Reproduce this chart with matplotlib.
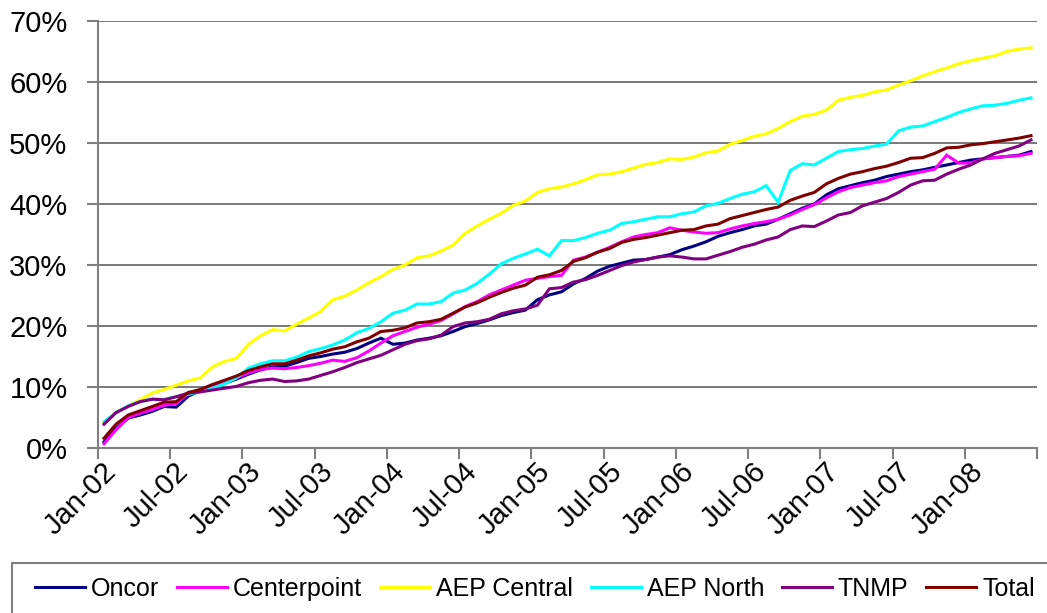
import matplotlib
matplotlib.use("Agg")
import matplotlib.pyplot as plt
from matplotlib.patches import Rectangle
from matplotlib.ticker import FuncFormatter, FixedLocator
from matplotlib.transforms import ScaledTranslation

plt.rcParams['font.family'] = ['Liberation Sans', 'DejaVu Sans']

# Cumulative share by month, Jan-02 .. Jun-08 (percent)
oncor = [1.0, 3.2, 4.9, 5.4, 6.0, 6.8, 6.7, 8.5, 9.4, 9.9, 10.6, 11.3, 12.1, 12.8, 13.3, 13.4, 14.0, 14.7, 15.0, 15.4, 15.7,
         16.3, 17.2, 18.0, 17.0, 17.2, 17.7, 18.0, 18.4, 19.1, 19.9, 20.4, 21.0, 21.7, 22.2, 22.6, 24.3, 25.1, 25.6, 26.9,
         27.8, 29.0, 29.8, 30.3, 30.8, 30.9, 31.3, 31.7, 32.5, 33.1, 33.8, 34.7, 35.3, 35.8, 36.4, 36.7, 37.5, 38.4, 39.3, 40.0,
         41.5, 42.5, 43.0, 43.5, 43.9, 44.5, 44.9, 45.3, 45.6, 46.0, 46.4, 46.8, 47.2, 47.4, 47.6, 47.8, 48.0, 48.6]
centerpoint = [0.7, 3.0, 5.0, 5.7, 6.3, 7.0, 7.3, 8.9, 9.5, 10.1, 10.7, 11.5, 12.3, 12.9, 13.1, 13.0, 13.2, 13.5, 13.9, 14.4, 14.2,
               14.8, 15.9, 17.2, 18.4, 19.1, 19.8, 20.3, 20.9, 22.0, 23.2, 24.0, 25.1, 25.9, 26.7, 27.5, 27.8, 28.1, 28.3, 30.8,
               31.3, 32.1, 32.9, 33.8, 34.6, 35.0, 35.3, 36.1, 35.7, 35.4, 35.2, 35.3, 35.9, 36.4, 36.8, 37.1, 37.5, 38.2, 39.1, 39.9,
               41.0, 42.0, 42.7, 43.1, 43.5, 43.8, 44.5, 44.9, 45.3, 45.7, 48.0, 46.7, 46.7, 47.4, 47.6, 47.8, 47.9, 48.3]
aep_central = [4.2, 5.8, 6.9, 7.9, 9.0, 9.6, 10.3, 11.0, 11.5, 13.3, 14.2, 14.7, 17.0, 18.4, 19.4, 19.2, 20.3, 21.3, 22.4, 24.3, 24.9,
               25.9, 27.1, 28.1, 29.3, 30.0, 31.2, 31.5, 32.3, 33.3, 35.2, 36.4, 37.5, 38.5, 39.8, 40.5, 41.9, 42.5, 42.8, 43.3,
               44.0, 44.8, 44.9, 45.3, 45.9, 46.5, 46.8, 47.4, 47.3, 47.7, 48.4, 48.7, 49.8, 50.4, 51.1, 51.5, 52.4, 53.5, 54.4, 54.7,
               55.4, 57.0, 57.5, 57.8, 58.4, 58.7, 59.5, 60.2, 61.0, 61.7, 62.3, 63.0, 63.5, 63.9, 64.3, 65.0, 65.4, 65.6]
aep_north = [4.3, 5.8, 6.9, 7.6, 8.0, 8.0, 8.4, 8.8, 9.2, 9.8, 10.5, 11.5, 13.1, 13.8, 14.3, 14.3, 14.9, 15.8, 16.3, 16.9, 17.7,
             18.9, 19.6, 20.7, 22.1, 22.6, 23.6, 23.6, 24.0, 25.4, 25.9, 27.0, 28.5, 30.2, 31.1, 31.8, 32.6, 31.5, 34.0, 34.0,
             34.5, 35.2, 35.7, 36.8, 37.1, 37.5, 37.9, 37.9, 38.4, 38.7, 39.7, 40.1, 40.9, 41.6, 42.0, 43.0, 40.3, 45.5, 46.6, 46.4,
             47.5, 48.6, 48.9, 49.1, 49.5, 49.8, 52.0, 52.6, 52.8, 53.5, 54.2, 55.0, 55.6, 56.1, 56.2, 56.5, 57.0, 57.4]
tnmp = [3.9, 5.8, 6.8, 7.6, 8.0, 7.9, 8.4, 9.0, 9.2, 9.5, 9.8, 10.1, 10.7, 11.1, 11.3, 10.9, 11.0, 11.3, 11.9, 12.5, 13.2,
        14.0, 14.6, 15.2, 16.1, 17.0, 17.6, 17.9, 18.5, 19.9, 20.5, 20.7, 21.1, 22.0, 22.5, 22.8, 23.4, 26.1, 26.3, 27.2,
        27.6, 28.3, 29.1, 29.9, 30.5, 30.9, 31.3, 31.5, 31.3, 31.0, 31.0, 31.6, 32.2, 32.9, 33.4, 34.1, 34.6, 35.8, 36.4, 36.3,
        37.2, 38.2, 38.6, 39.7, 40.3, 40.9, 41.9, 43.1, 43.8, 43.9, 44.9, 45.7, 46.4, 47.4, 48.3, 48.9, 49.5, 50.5]
total = [1.6, 3.9, 5.4, 6.1, 6.8, 7.5, 7.6, 9.1, 9.6, 10.4, 11.1, 11.8, 12.7, 13.3, 13.8, 13.8, 14.4, 15.1, 15.6, 16.2, 16.6,
         17.4, 18.0, 19.1, 19.3, 19.7, 20.5, 20.7, 21.1, 22.1, 23.1, 23.8, 24.7, 25.5, 26.2, 26.7, 28.0, 28.4, 29.1, 30.6,
         31.2, 32.1, 32.7, 33.7, 34.2, 34.5, 34.9, 35.3, 35.7, 35.8, 36.4, 36.7, 37.6, 38.1, 38.6, 39.1, 39.5, 40.6, 41.3, 41.9,
         43.3, 44.2, 44.9, 45.3, 45.8, 46.2, 46.8, 47.5, 47.6, 48.3, 49.2, 49.3, 49.7, 49.9, 50.2, 50.5, 50.8, 51.2]

series_names = ["Oncor", "Centerpoint", "AEP Central", "AEP North", "TNMP", "Total"]
series_colors = ["#000080", "#FF00FF", "#FFFF00", "#00FFFF", "#800080", "#800000"]
tick_labels = ["Jan-02", "Jul-02", "Jan-03", "Jul-03", "Jan-04", "Jul-04", "Jan-05",
               "Jul-05", "Jan-06", "Jul-06", "Jan-07", "Jul-07", "Jan-08"]
y_ticks = [0, 10, 20, 30, 40, 50, 60, 70]

fig = plt.figure(figsize=(10.47, 6.13), dpi=100)
ax = fig.add_axes([98 / 1047, 1 - 448 / 613, (1037 - 98) / 1047, (448 - 21) / 613])

n = len(oncor)
x = list(range(n))
for name, vals, col in zip(series_names, [oncor, centerpoint, aep_central, aep_north, tnmp, total], series_colors):
    ax.plot(x, vals, color=col, lw=2.2, label=name, solid_joinstyle='miter')

ax.set_xlim(-0.5, n - 0.5)
ax.set_ylim(0, 70)

# y axis
ax.set_yticks(y_ticks)
ax.yaxis.set_major_formatter(FuncFormatter(lambda v, p: f"{int(v)}%"))
ax.tick_params(axis='y', direction='out', length=8, width=1.5, color='#808080',
               labelsize=21, pad=14)
ax.grid(axis='y', color='#555555', lw=1.1)
ax.set_axisbelow(True)

# x axis: labels at each 6th month, boundary tick marks between categories
ax.set_xticks(list(range(0, n, 6))[:len(tick_labels)])
ax.set_xticklabels(tick_labels, rotation=45, ha='right', va='center', rotation_mode='anchor')
ax.tick_params(axis='x', which='major', length=0, labelsize=21, pad=14)
shift = ScaledTranslation(8 / 100, 0, fig.dpi_scale_trans)
for lbl in ax.get_xticklabels():
    lbl.set_transform(lbl.get_transform() + shift)
ax.xaxis.set_minor_locator(FixedLocator([k * 6 - 0.5 for k in range(n // 6 + 1)]))
ax.tick_params(axis='x', which='minor', direction='out', length=8, width=1.5, color='#808080')

for side in ('top', 'right'):
    ax.spines[side].set_visible(False)
for side in ('left', 'bottom'):
    ax.spines[side].set_color('#808080')
    ax.spines[side].set_linewidth(1.5)
    ax.spines[side].set_zorder(3)

# legend box running past the figure edge
fig.patches.append(Rectangle((12 / 1047, -0.1), 1.2, 0.1 + (613 - 563) / 613,
                             transform=fig.transFigure, facecolor='white',
                             edgecolor='#808080', lw=1.5))
handles, labels = ax.get_legend_handles_labels()
fig.legend(handles, labels, loc='center left', bbox_to_anchor=(35 / 1047, 1 - 589 / 613),
           ncol=6, frameon=False, fontsize=18, handlelength=2.0, handletextpad=0.25,
           columnspacing=0.7, borderpad=0, borderaxespad=0)

fig.savefig("out.png", dpi=100)
